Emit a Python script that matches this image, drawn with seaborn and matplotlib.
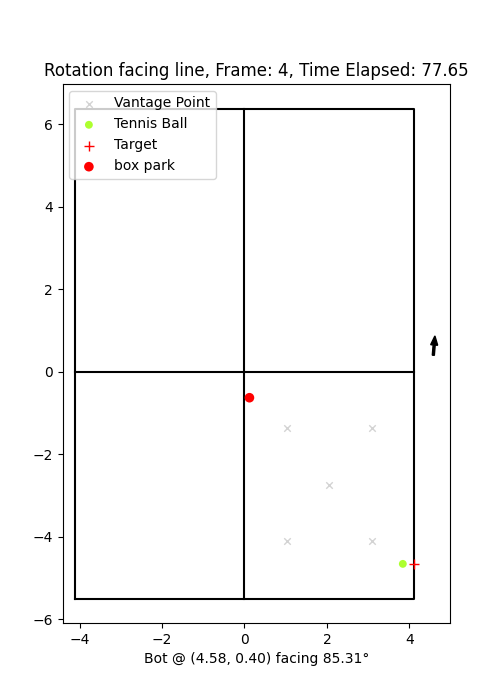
import numpy as np
import matplotlib
matplotlib.use("Agg")
import matplotlib.pyplot as plt
import seaborn as sns

# court geometry (half-width, top/bottom of court)
court_x = [-4.115, 4.115]
court_y = [-5.5, 6.385]

vantage_x = [1.029, 3.086, 2.057, 1.029, 3.086]
vantage_y = [-1.37, -1.37, -2.74, -4.11, -4.11]
ball_x = [3.84]
ball_y = [-4.66]
target_x = [4.115]
target_y = [-4.66]
park_x = [0.12]
park_y = [-0.63]

bot_x, bot_y, bot_heading = 4.58, 0.40, 85.31
frame, elapsed = 4, 77.65

fig, ax = plt.subplots(figsize=(5, 7), dpi=100)

# court outline and centre lines
x0, x1 = court_x
y0, y1 = court_y
ax.plot([x0, x1, x1, x0, x0], [y0, y0, y1, y1, y0], color="black", lw=1.5)
ax.plot([0, 0], [y0, y1], color="black", lw=1.5)
ax.plot([x0, x1], [0, 0], color="black", lw=1.5)

sns.scatterplot(x=vantage_x, y=vantage_y, marker="x", color="lightgray",
                s=22, linewidth=1, label="Vantage Point", ax=ax, zorder=3)
sns.scatterplot(x=ball_x, y=ball_y, marker="o", color="greenyellow",
                s=32, edgecolor="none", label="Tennis Ball", ax=ax, zorder=3)
sns.scatterplot(x=target_x, y=target_y, marker="+", color="red",
                s=60, linewidth=1, label="Target", ax=ax, zorder=3)
sns.scatterplot(x=park_x, y=park_y, marker="o", color="red",
                s=48, edgecolor="none", label="box park", ax=ax, zorder=3)

# bot heading arrow
rad = np.deg2rad(bot_heading)
ax.arrow(bot_x, bot_y, 0.25 * np.cos(rad), 0.25 * np.sin(rad),
         width=0.05, head_width=0.17, head_length=0.22, fc="black", ec="black")

ax.set_aspect("equal", adjustable="datalim")
ax.set_title(f"Rotation facing line, Frame: {frame}, Time Elapsed: {elapsed}")
ax.set_xlabel(f"Bot @ ({bot_x:.2f}, {bot_y:.2f}) facing {bot_heading:.2f}°")
ax.legend(loc="upper left")

fig.savefig("out.png", dpi=100)
